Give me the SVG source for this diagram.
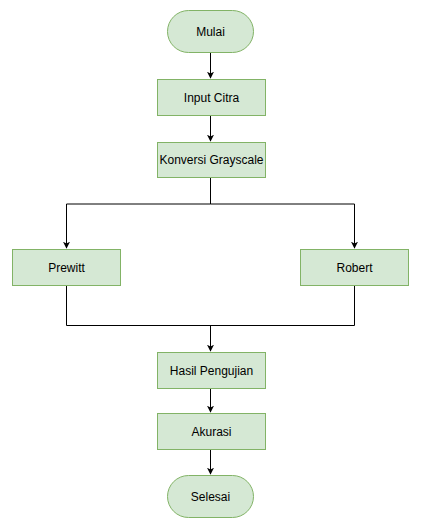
<svg xmlns="http://www.w3.org/2000/svg" width="421" height="528" viewBox="0 0 421 528">
<style>
.n{fill:#d5e8d4;stroke:#82b366;stroke-width:1}
.t{font-family:"Liberation Sans",Arial,sans-serif;font-size:12px;fill:#000;text-anchor:middle;dominant-baseline:central}
.c{fill:none;stroke:#000;stroke-width:1}
</style>
<defs>
<marker id="a" viewBox="0 0 10 10" refX="9" refY="5" markerWidth="7" markerHeight="7" markerUnits="userSpaceOnUse" orient="auto">
<path d="M0,0 L10,5 L0,10 L2.5,5 Z" fill="#000"/>
</marker>
</defs>
<rect width="421" height="528" fill="#fff"/>
<g id="connectors">
<path class="c" d="M210.5,53 V78" marker-end="url(#a)"/>
<path class="c" d="M210.5,115 V141" marker-end="url(#a)"/>
<path class="c" d="M210.5,178 V204 H66.5 V248" marker-end="url(#a)"/>
<path class="c" d="M210.5,204 H354.5 V248" marker-end="url(#a)"/>
<path class="c" d="M66.5,286 V325.5 H354.5 V286"/>
<path class="c" d="M210.5,325.5 V351" marker-end="url(#a)"/>
<path class="c" d="M210.5,389 V412" marker-end="url(#a)"/>
<path class="c" d="M210.5,450 V474" marker-end="url(#a)"/>
</g>
<g id="mulai"><rect class="n" x="167.5" y="10.5" width="86" height="42" rx="21" ry="21"/><text class="t" x="210.5" y="31.5">Mulai</text></g>
<g id="input"><rect class="n" x="157.5" y="79.5" width="108" height="36"/><text class="t" x="211.5" y="97.5">Input Citra</text></g>
<g id="konversi"><rect class="n" x="157.5" y="142.5" width="108" height="35"/><text class="t" x="211.5" y="160">Konversi Grayscale</text></g>
<g id="prewitt"><rect class="n" x="12.5" y="249.5" width="108" height="36"/><text class="t" x="66.5" y="267.5">Prewitt</text></g>
<g id="robert"><rect class="n" x="300.5" y="249.5" width="108" height="36"/><text class="t" x="354.5" y="267.5">Robert</text></g>
<g id="hasil"><rect class="n" x="157.5" y="352.5" width="108" height="36"/><text class="t" x="211.5" y="370.5">Hasil Pengujian</text></g>
<g id="akurasi"><rect class="n" x="157.5" y="413.5" width="108" height="36"/><text class="t" x="211.5" y="431.5">Akurasi</text></g>
<g id="selesai"><rect class="n" x="167.5" y="475.5" width="86" height="42" rx="21" ry="21"/><text class="t" x="210.5" y="496.5">Selesai</text></g>
</svg>
